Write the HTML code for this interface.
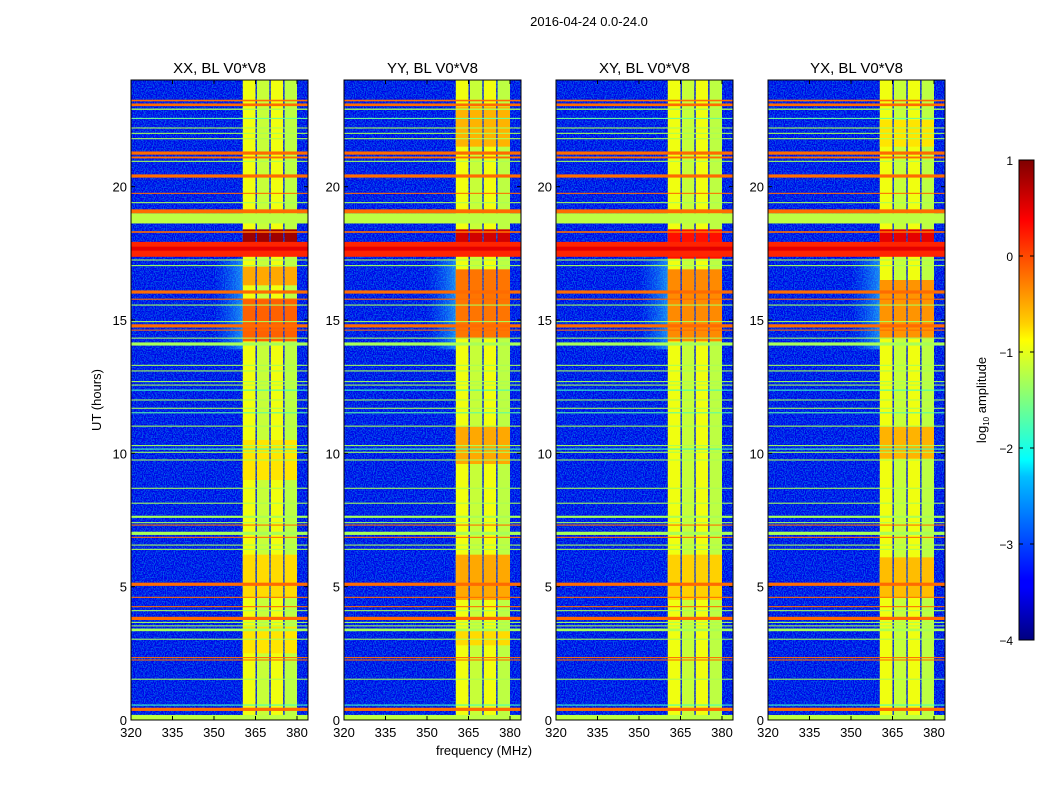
<!DOCTYPE html>
<html><head><meta charset="utf-8">
<style>
body{margin:0;background:#fff;}
svg text{font-family:"Liberation Sans",sans-serif;fill:#000;}
</style></head>
<body>
<svg id="fig" width="1050" height="800" viewBox="0 0 1050 800" xmlns="http://www.w3.org/2000/svg">
<defs>
<filter id="noise" x="0" y="0" width="100%" height="100%">
<feTurbulence type="fractalNoise" baseFrequency="0.9 0.7" numOctaves="1" seed="3"/>
<feColorMatrix type="matrix" values="0 0 0 0 0  1.2 0 0 0 -0.55  0 0 0 0 0.95  0 0 0 0 1"/>
</filter>
<linearGradient id="jet" x1="0" y1="1" x2="0" y2="0">
<stop offset="0" stop-color="#00007f"/><stop offset="0.11" stop-color="#0000ff"/>
<stop offset="0.125" stop-color="#0000ff"/><stop offset="0.34" stop-color="#00c0ff"/>
<stop offset="0.375" stop-color="#00ffff"/><stop offset="0.5" stop-color="#7fff7f"/>
<stop offset="0.625" stop-color="#ffff00"/><stop offset="0.66" stop-color="#ffd000"/>
<stop offset="0.875" stop-color="#ff0000"/><stop offset="1" stop-color="#7f0000"/>
</linearGradient>
<linearGradient id="haze" x1="0" y1="0" x2="1" y2="0">
<stop offset="0" stop-color="#00a0ff" stop-opacity="0"/><stop offset="1" stop-color="#30d0ff" stop-opacity="0.6"/>
</linearGradient>
</defs>
<text x="589" y="26" font-size="13" text-anchor="middle">2016-04-24 0.0-24.0</text>
<text x="484" y="755" font-size="13" text-anchor="middle">frequency (MHz)</text>
<text transform="translate(101,400) rotate(-90)" font-size="13" text-anchor="middle">UT (hours)</text>
<g id="panels"></g>
<g>
<rect x="1019" y="160" width="15" height="480" fill="url(#jet)" stroke="#000" stroke-width="1"/>
<g id="cbticks"></g>
<text transform="translate(986,400) rotate(-90)" font-size="13" text-anchor="middle">log<tspan font-size="8" dy="3">10</tspan><tspan dy="-3"> amplitude</tspan></text>
</g>
</svg>
<script>
const panelTitles=["XX, BL V0*V8","YY, BL V0*V8","XY, BL V0*V8","YX, BL V0*V8"];
const xTicks=[320,335,350,365,380];
const yTicks=[0,5,10,15,20];
const cbTicks=[1,0,-1,-2,-3,-4];
// band columns: [freqStart, freqEnd, level]
const bandCols=[[360.4,365,-0.95],[365.5,370,-1.15],[370.5,375,-0.95],[375.5,380,-1.2]];
// horizontal RFI lines: [timeStart, timeEnd, level]
const hLines=[
[23.02,23.12,-0.15],[23.2,23.26,-0.15],[22.88,22.93,-1.3],[22.54,22.58,-1.6],[22.18,22.22,-1.3],[21.98,22.02,-1.3],[21.78,21.82,-1.3],
[21.2,21.32,-0.15],[21.06,21.13,-0.15],[20.93,20.97,-1.3],[20.34,20.46,-0.15],[19.73,19.77,-0.15],[19.38,19.42,-1.3],
[19.0,19.15,-0.15],[18.62,19.0,-1.2],[18.27,18.33,-0.15],[17.37,17.93,0.2],[17.6,17.75,0.5],[17.23,17.27,-1.3],[17.02,17.06,-1.3],
[15.99,16.11,-0.15],[15.76,15.8,-0.15],[15.54,15.58,-1.3],[14.92,14.96,-1.3],[14.72,14.84,-0.15],[14.6,14.64,-0.15],
[14.3,14.34,-1.3],[14.04,14.16,-1.3],[13.28,13.32,-1.3],[13.07,13.11,-1.3],[12.67,12.71,-1.3],[12.54,12.58,-1.3],[12.35,12.39,-1.8],
[11.98,12.02,-1.3],[11.67,11.71,-1.3],[11.5,11.54,-1.7],[11.0,11.04,-1.3],[10.27,10.31,-1.3],[10.14,10.18,-1.8],[10.02,10.06,-1.3],
[9.73,9.77,-1.3],[8.67,8.71,-1.3],[8.11,8.15,-1.3],[7.58,7.66,-1.3],[7.38,7.42,-1.3],[7.29,7.33,-0.15],[6.94,7.06,-1.3],
[6.83,6.87,-0.15],[6.54,6.58,-1.3],[6.38,6.42,-1.3],[5.03,5.15,-0.15],[4.58,4.62,-0.15],[4.23,4.27,-0.15],[4.08,4.12,-1.3],
[3.75,3.87,-0.15],[3.64,3.68,-1.3],[3.51,3.55,-1.3],[3.33,3.43,-1.3],[3.01,3.05,-1.3],[2.32,2.36,-0.15],[2.23,2.27,-0.15],
[1.51,1.55,-1.3],[0.54,0.58,-1.8],[0.34,0.46,-0.15],[0,0.19,-1.2]];
// per-panel band blocks: [timeStart, timeEnd, level]
const blocksXX=[[17.4,18.4,0.85],[16.3,17.0,-0.45],[14.2,15.8,-0.1],[4.6,6.2,-0.7],[9.0,10.5,-0.75],[2.5,3.5,-0.75]];
const blocksYY=[[21.5,23.0,-0.5],[17.5,18.4,0.6],[14.3,16.9,-0.2],[9.6,11.0,-0.45],[4.5,6.2,-0.45],[2.8,3.4,-0.7]];
const blocksXY=[[17.3,18.4,0.3],[14.2,16.9,-0.3],[4.5,6.2,-0.65]];
const blocksYX=[[17.5,18.4,0.5],[14.3,16.5,-0.35],[9.8,11.0,-0.5],[4.6,6.1,-0.55],[21.5,22.5,-0.75]];
const panelBlocks=[blocksXX,blocksYY,blocksXY,blocksYX];
// haze regions near band: [timeStart, timeEnd]
const hazes=[[13.9,17.3]];

const NS="http://www.w3.org/2000/svg";
const X0=[131,344,556,768], PW=177, PY0=80, PY1=720;
const fMin=320, pxPerMHz=166/60, tMax=24;
function jet(l){const v=Math.max(0,Math.min(1,(l+4)/5));const c=x=>Math.round(255*Math.max(0,Math.min(1,x)));
 return `rgb(${c(1.5-Math.abs(4*v-3))},${c(1.5-Math.abs(4*v-2))},${c(1.5-Math.abs(4*v-1))})`;}
function el(tag,attrs,parent){const e=document.createElementNS(NS,tag);for(const k in attrs)e.setAttribute(k,attrs[k]);parent.appendChild(e);return e;}
const yS=t=>PY1-(t/tMax)*(PY1-PY0);
const root=document.getElementById('panels');
for(let p=0;p<4;p++){
 const x0=X0[p]; const xS=f=>x0+(f-fMin)*pxPerMHz;
 const g=el('g',{},root);
 
 
 const cp=el('clipPath',{id:'cp'+p},g); el('rect',{x:x0,y:PY0,width:PW,height:PY1-PY0},cp);
 const h=el('g',{'clip-path':`url(#cp${p})`},g);
 const bg=el('rect',{x:x0,y:PY0,width:PW,height:PY1-PY0,fill:'#0008d0'},h);
 
 
 el('rect',{x:x0,y:PY0,width:PW,height:PY1-PY0,filter:'url(#noise)',opacity:'0.6'},h);
 hazes.forEach(z=>{const r=el('rect',{x:xS(350),y:yS(z[1]),width:xS(bandCols[0][0])-xS(350),height:yS(z[0])-yS(z[1]),fill:'url(#haze)'},h);
  
  });
 bandCols.forEach((c,i)=>{const r=el('rect',{x:xS(c[0]),y:PY0,width:xS(c[1])-xS(c[0]),height:PY1-PY0,fill:jet(c[2])},h);
  
  });
 panelBlocks[p].forEach(b=>{bandCols.forEach(c=>{const r=el('rect',{x:xS(c[0]),y:yS(b[1]),width:xS(c[1])-xS(c[0]),height:yS(b[0])-yS(b[1]),fill:jet(b[2])},h);
  
  });});
 hLines.forEach(l=>{const r=el('rect',{x:x0,y:yS(l[1]),width:PW,height:Math.max(1,yS(l[0])-yS(l[1])),fill:jet(l[2])},h);
  
  });
 el('rect',{x:x0,y:PY0,width:PW,height:PY1-PY0,fill:'none',stroke:'#000','stroke-width':1},g);
 const tt=el('text',{x:x0+PW/2,y:73,'font-size':15,'text-anchor':'middle'},g); tt.textContent=panelTitles[p];
 
 
 xTicks.forEach(f=>{const x=xS(f);el('line',{x1:x,x2:x,y1:PY1,y2:PY1-4,stroke:'#000'},g);el('line',{x1:x,x2:x,y1:PY0,y2:PY0+4,stroke:'#000'},g);
  const t=el('text',{x:x,y:737,'font-size':13,'text-anchor':'middle'},g);t.textContent=f;
  
  });
 yTicks.forEach(v=>{const y=yS(v);el('line',{x1:x0,x2:x0+4,y1:y,y2:y,stroke:'#000'},g);el('line',{x1:x0+PW,x2:x0+PW-4,y1:y,y2:y,stroke:'#000'},g);
  const t=el('text',{x:x0-4,y:y+5,'font-size':13,'text-anchor':'end'},g);t.textContent=v;
  
  });
}
const cb=document.getElementById('cbticks');
cbTicks.forEach(v=>{const y=160+(1-v)*96;el('line',{x1:1019,x2:1023,y1:y,y2:y,stroke:'#000'},cb);el('line',{x1:1034,x2:1030,y1:y,y2:y,stroke:'#000'},cb);
 const t=el('text',{x:1013,y:y+5,'font-size':12,'text-anchor':'end'},cb);t.textContent=v<0?'\u2212'+(-v):v;
 
 });
</script>
</body></html>
